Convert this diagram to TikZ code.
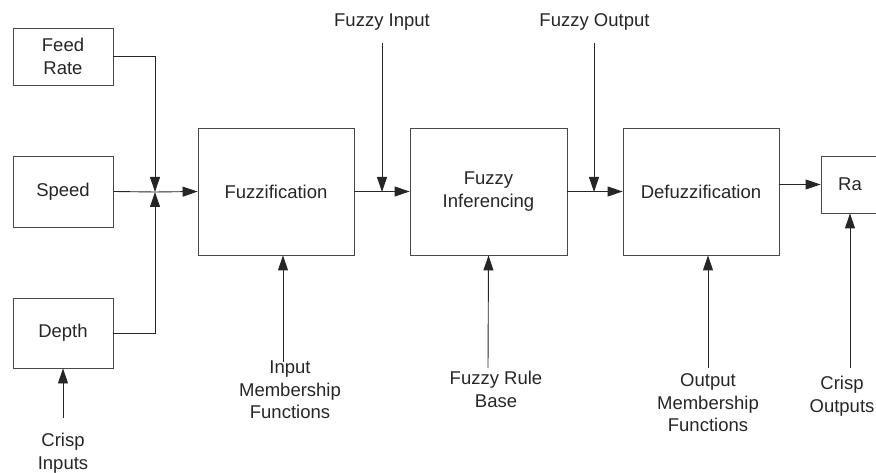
\documentclass[tikz,border=0pt]{standalone}
\usepackage{fontspec}
\setmainfont{Liberation Sans}
\usetikzlibrary{arrows.meta}
\begin{document}
\begin{tikzpicture}[x=1pt,y=-1pt,
  lbl/.style={align=center,inner sep=0pt,text=black!85,font=\fontsize{18.5}{22.5}\selectfont},
  blk/.style={draw=black!72,line width=0.9pt,inner sep=0pt,align=center,text=black!85,font=\fontsize{18.5}{22.5}\selectfont},
  conn/.style={draw=black!85,line width=0.9pt},
  arr/.style={conn,-{Triangle[length=15pt,width=10pt]}}]
\useasboundingbox (0,0) rectangle (876,473);
% blocks
\node[blk,minimum width=100pt,minimum height=57pt] (feed) at (63,56.5) {Feed\\Rate};
\node[blk,minimum width=100pt,minimum height=71pt] (speed) at (63,191.5) {Speed};
\node[blk,minimum width=100pt,minimum height=70pt] (depth) at (63,333) {Depth};
\node[blk,minimum width=156pt,minimum height=127pt] (fuzz) at (276,191.5) {Fuzzification};
\node[blk,minimum width=157pt,minimum height=127pt] (inf) at (488.5,191.5) {Fuzzy\\Inferencing};
\node[blk,minimum width=156pt,minimum height=127pt] (defuzz) at (701,191.5) {Defuzzification};
\node[blk,minimum width=58pt,minimum height=57pt] (ra) at (850,184.5) {Ra};
% labels
\node[lbl] (fin) at (382,22) {Fuzzy Input};
\node[lbl] (fout) at (594.5,22) {Fuzzy Output};
\node[lbl] (cin) at (63,453) {Crisp\\Inputs};
\node[lbl] (imf) at (290,390) {Input\\Membership\\Functions};
\node[lbl] (frb) at (496,389.5) {Fuzzy Rule\\Base};
\node[lbl] (omf) at (708,403) {Output\\Membership\\Functions};
\node[lbl] (cout) at (842,396) {Crisp\\Outputs};
% coordinates
\coordinate (J) at (155,192);
\coordinate (finS) at (382,43);
\coordinate (finE) at (382,192);
\coordinate (foutS) at (594,43);
\coordinate (foutE) at (594,192);
\coordinate (cinS) at (63,418);
\coordinate (imfS) at (283,362);
\coordinate (frbS) at (488,368);
\coordinate (omfS) at (708,368);
\coordinate (coutS) at (850,368);
% connectors
\draw[arr] (feed.east) -| (J);
\draw[arr] (depth.east) -| (J);
\draw[conn] (speed.east) -- (J);
\draw[arr] (J) -- (fuzz.west);
\draw[arr] (fuzz.east) -- (inf.west);
\draw[arr] (finS) -- (finE);
\draw[arr] (inf.east) -- (defuzz.west);
\draw[arr] (foutS) -- (foutE);
\draw[arr] (defuzz.east |- ra.west) -- (ra.west);
\draw[arr] (cinS) -- (depth.south);
\draw[arr] (imfS) -- (imfS |- fuzz.south);
\draw[arr] (frbS) -- (inf.south);
\draw[arr] (omfS) -- (omfS |- defuzz.south);
\draw[arr] (coutS) -- (ra.south);
\end{tikzpicture}
\end{document}
